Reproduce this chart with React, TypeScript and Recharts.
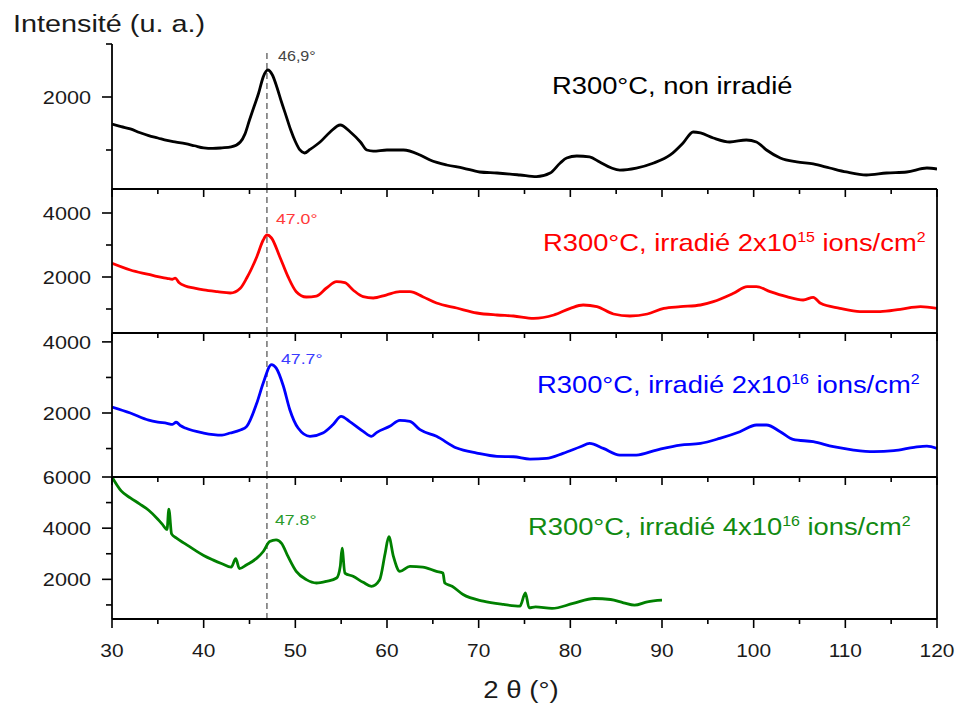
import React from 'react';
import { LineChart, Line, XAxis, YAxis, ReferenceLine } from 'recharts';

const W = 957;
const H = 708;
const FONT = "'Liberation Sans', Arial, Helvetica, sans-serif";

// ---------- data ----------
const xTicks = [30, 35, 40, 45, 50, 55, 60, 65, 70, 75, 80, 85, 90, 95, 100, 105, 110, 115, 120];
const xMajor = [30, 40, 50, 60, 70, 80, 90, 100, 110, 120];

const blackX = [30, 31, 32, 33, 34, 35, 36, 37, 38, 39, 40, 41, 42, 43, 44, 44.5, 45, 45.5, 46, 46.5, 47, 47.5, 48, 48.5, 49, 49.5, 50, 50.5, 51, 51.6, 52.7, 53.8, 54.9, 56, 57.1, 57.8, 58.5, 60, 61.8, 63.6, 64.7, 66.5, 68.3, 70.1, 72, 74.5, 76.3, 77.8, 78.9, 79.6, 80.7, 82.1, 83.2, 84.5, 85.4, 87.2, 89.1, 90.9, 92.3, 93.4, 94.2, 95.6, 97.4, 99.2, 100.3, 101.4, 102.9, 104.7, 106.5, 108.3, 110.1, 112.3, 114.5, 116.7, 118.9, 120];
const blackY = [1490, 1440, 1400, 1330, 1270, 1226, 1180, 1150, 1120, 1080, 1040, 1030, 1040, 1057, 1151, 1300, 1566, 1820, 2075, 2380, 2509, 2415, 2180, 1900, 1640, 1377, 1160, 1000, 943, 1010, 1151, 1340, 1472, 1340, 1151, 1000, 980, 1000, 1000, 906, 811, 717, 660, 585, 566, 528, 497, 566, 755, 849, 887, 868, 774, 660, 622, 660, 755, 906, 1132, 1340, 1321, 1226, 1151, 1189, 1151, 1000, 849, 774, 736, 660, 585, 528, 566, 585, 660, 641];

const redX = [30, 32, 34, 35, 36, 36.6, 36.9, 37.3, 38, 39, 40, 41.5, 42.9, 44, 44.7, 45.8, 46.5, 46.9, 47.4, 48.3, 49.2, 50.1, 51.2, 52.3, 53.4, 54.5, 55.4, 56.3, 57.4, 58.5, 59.9, 61.4, 62.5, 63.9, 65.4, 67.6, 69.8, 72, 73.8, 76, 78.2, 80, 81.4, 82.9, 84.7, 86.5, 88.4, 90.2, 92, 94.2, 95.6, 97.8, 99.3, 100.3, 101.8, 103.6, 105.4, 106.5, 107.3, 109.4, 111.6, 113.8, 116, 118.2, 120];
const redY = [2427, 2219, 2080, 2010, 1960, 1930, 1965, 1830, 1720, 1650, 1594, 1540, 1500, 1650, 1969, 2634, 3156, 3312, 3219, 2634, 2010, 1541, 1375, 1406, 1656, 1854, 1822, 1594, 1385, 1344, 1437, 1541, 1541, 1385, 1187, 1031, 875, 812, 781, 708, 812, 1021, 1125, 1073, 844, 781, 844, 1021, 1073, 1125, 1229, 1490, 1698, 1698, 1541, 1385, 1281, 1365, 1177, 1021, 917, 917, 990, 1073, 1021];

const blueX = [30, 32, 34, 35, 36, 36.6, 37, 37.5, 38, 40, 42, 42.9, 44, 44.7, 45.8, 46.5, 47.4, 47.9, 48.7, 49.4, 50.3, 51.6, 53, 54.1, 55, 55.9, 57.4, 58.3, 58.9, 60.3, 61.4, 62.5, 63.6, 65.4, 67.6, 69.8, 72, 73.8, 75.6, 77.4, 79.2, 81.1, 82.1, 83.6, 85.4, 87.2, 89.4, 92, 94.2, 96.3, 98.5, 100.3, 101.4, 102.9, 104.3, 106.5, 108.7, 110.9, 113.1, 115.3, 117.5, 118.9, 120];
const blueY = [2169, 2000, 1800, 1746, 1710, 1680, 1740, 1640, 1577, 1437, 1380, 1437, 1521, 1625, 2282, 2845, 3362, 3268, 2752, 2093, 1577, 1343, 1437, 1671, 1907, 1766, 1484, 1343, 1456, 1625, 1794, 1766, 1530, 1343, 1014, 873, 780, 770, 704, 723, 864, 1051, 1145, 1005, 817, 817, 958, 1099, 1145, 1286, 1474, 1662, 1662, 1474, 1259, 1192, 1051, 958, 911, 939, 1033, 1070, 1005];

const greenX = [30, 31, 32, 33, 34, 35, 35.5, 36, 36.2, 36.5, 37, 38, 39, 40, 41, 42, 43, 43.5, 43.9, 44.7, 45.8, 46.5, 47.2, 47.9, 48.5, 49.2, 50.1, 51.2, 52.3, 53.4, 54.5, 54.9, 55.1, 55.4, 56.3, 57.4, 58.3, 59.2, 59.8, 60.2, 60.7, 61.4, 62.5, 63.9, 65.4, 66.1, 66.3, 67.1, 68.3, 70.5, 72.7, 74.5, 75.1, 75.5, 76.2, 78, 80.3, 82.6, 84.4, 85.8, 87, 88.4, 90];
const greenY = [6000, 5456, 5184, 4950, 4700, 4350, 4150, 3950, 4746, 3775, 3619, 3386, 3150, 2932, 2760, 2610, 2479, 2804, 2420, 2571, 2828, 3088, 3476, 3541, 3410, 2894, 2311, 1988, 1857, 1923, 2051, 2505, 3216, 2246, 2117, 1884, 1729, 1988, 3022, 3670, 2894, 2311, 2505, 2479, 2311, 2246, 1857, 1729, 1406, 1146, 1018, 953, 1470, 888, 926, 862, 1057, 1251, 1212, 1082, 991, 1121, 1185];

const zip = (xs: number[], ys: number[]) => xs.map((x, i) => ({ x, y: ys[i] }));

// ---------- tick renderers ----------
const makeYTick = (majors: number[]) => (props: any) => {
  const { x, y, payload } = props;
  const v = payload.value;
  const major = majors.includes(v);
  const len = major ? 10 : 6;
  return (
    <g>
      <line x1={x - len} y1={y} x2={x} y2={y} stroke="#000" strokeWidth={1.6} />
      {major && (
        <text
          transform={`translate(${x - 21},${y}) scale(1.14,1)`}
          dy="0.36em"
          textAnchor="end"
          fontSize={19}
          fill="#1a1a1a"
          fontFamily={FONT}
        >
          {v}
        </text>
      )}
    </g>
  );
};

const TopTick = (props: any) => {
  const { x, y, payload } = props;
  const len = xMajor.includes(payload.value) ? 8 : 5;
  return <line x1={x} y1={y} x2={x} y2={y + len} stroke="#000" strokeWidth={1.6} />;
};

const BottomTick = (props: any) => {
  const { x, y, payload } = props;
  const major = xMajor.includes(payload.value);
  const len = major ? 9 : 5;
  return (
    <g>
      <line x1={x} y1={y} x2={x} y2={y + len} stroke="#000" strokeWidth={1.6} />
      {major && (
        <text
          transform={`translate(${x},${y + 38}) scale(1.1,1)`}
          textAnchor="middle"
          fontSize={19}
          fill="#1a1a1a"
          fontFamily={FONT}
        >
          {payload.value}
        </text>
      )}
    </g>
  );
};

// ---------- panels ----------
type Panel = {
  key: string;
  top: number;
  bottom: number;
  domain: [number, number];
  yTicks: number[];
  yMajors: number[];
  data: { x: number; y: number }[];
  color: string;
  frame: boolean;
  bottomAxis: boolean;
  refTop?: number;
};

const panels: Panel[] = [
  { key: 'p1', top: 44, bottom: 189, domain: [264, 3000], yTicks: [1000, 2000, 3000], yMajors: [2000], data: zip(blackX, blackY), color: '#000000', frame: false, bottomAxis: false, refTop: 2830 },
  { key: 'p2', top: 189, bottom: 333, domain: [250, 4750], yTicks: [1000, 2000, 3000, 4000], yMajors: [2000, 4000], data: zip(redX, redY), color: '#ff0000', frame: true, bottomAxis: false },
  { key: 'p3', top: 333, bottom: 477, domain: [200, 4250], yTicks: [1000, 2000, 3000, 4000], yMajors: [2000, 4000], data: zip(blueX, blueY), color: '#0000ff', frame: true, bottomAxis: false },
  { key: 'p4', top: 477, bottom: 619, domain: [450, 6000], yTicks: [1000, 2000, 3000, 4000, 5000, 6000], yMajors: [2000, 4000, 6000], data: zip(greenX, greenY), color: '#008000', frame: true, bottomAxis: true },
];

const PLOT_LEFT = 112;
const PLOT_RIGHT = 937;
const YW = 60; // left axis band
const RW = 10; // right axis band
const TH = 10; // top axis band
const BH = 40; // bottom axis band

function PanelChart({ p }: { p: Panel }) {
  const topBand = p.frame ? TH : 0;
  const rightBand = p.frame ? RW : 0;
  const bottomBand = p.bottomAxis ? BH : 0;
  return (
    <div style={{ position: 'absolute', left: 0, top: 0, width: W, height: H }}>
      <LineChart
        width={W}
        height={H}
        data={p.data}
        margin={{
          top: p.top - topBand,
          bottom: H - p.bottom - bottomBand,
          left: PLOT_LEFT - YW,
          right: W - PLOT_RIGHT - rightBand,
        }}
      >
        <XAxis
          xAxisId="b"
          dataKey="x"
          type="number"
          domain={[30, 120]}
          ticks={xTicks}
          interval={0}
          orientation="bottom"
          height={p.bottomAxis ? BH : 0}
          tickSize={0}
          tickMargin={0}
          hide={!p.bottomAxis}
          axisLine={{ stroke: '#000', strokeWidth: 1.8 }}
          tickLine={false}
          tick={BottomTick}
          allowDataOverflow
        />
        {p.frame && (
          <XAxis
            xAxisId="t"
            dataKey="x"
            type="number"
            domain={[30, 120]}
            ticks={xTicks}
            interval={0}
            orientation="top"
            height={TH}
            tickSize={0}
            tickMargin={0}
            axisLine={{ stroke: '#000', strokeWidth: 1.8 }}
            tickLine={false}
            tick={TopTick}
            allowDataOverflow
          />
        )}
        <YAxis
          yAxisId="l"
          type="number"
          domain={p.domain}
          ticks={p.yTicks}
          interval={0}
          width={YW}
          tickSize={0}
          tickMargin={0}
          axisLine={{ stroke: '#000', strokeWidth: 1.8 }}
          tickLine={false}
          tick={makeYTick(p.yMajors)}
          allowDataOverflow
        />
        {p.frame && (
          <YAxis
            yAxisId="r"
            orientation="right"
            type="number"
            domain={[0, 1]}
            width={RW}
            tick={false}
            tickLine={false}
            axisLine={{ stroke: '#000', strokeWidth: 1.8 }}
          />
        )}
        {p.refTop !== undefined ? (
          <ReferenceLine
            xAxisId="b"
            yAxisId="l"
            segment={[{ x: 46.9, y: p.refTop }, { x: 46.9, y: p.domain[0] }]}
            stroke="#7a7a7a"
            strokeWidth={1.6}
            strokeDasharray="6 4"
          />
        ) : (
          <ReferenceLine xAxisId="b" yAxisId="l" x={46.9} stroke="#7a7a7a" strokeWidth={1.6} strokeDasharray="6 4" />
        )}
        <Line
          xAxisId="b"
          yAxisId="l"
          type="monotone"
          dataKey="y"
          stroke={p.color}
          strokeWidth={2.8}
          dot={false}
          isAnimationActive={false}
        />
      </LineChart>
    </div>
  );
}

function T({ x, y, size, fill, sx = 1.14, anchor = 'start', children }: any) {
  return (
    <text transform={`translate(${x},${y}) scale(${sx},1)`} fontSize={size} fill={fill} textAnchor={anchor} fontFamily={FONT}>
      {children}
    </text>
  );
}

function Sample({ x, y, color, base, exp }: { x: number; y: number; color: string; base: string; exp: string }) {
  return (
    <T x={x} y={y} size={24} fill={color}>
      R300°C, irradié {base}
      <tspan dy={-9} fontSize={14}>{exp}</tspan>
      <tspan dy={9}> ions/cm</tspan>
      <tspan dy={-9} fontSize={14}>2</tspan>
    </T>
  );
}

export default function App() {
  return (
    <div style={{ position: 'absolute', left: 0, top: 0, width: W, height: H, background: '#fff' }}>
      {panels.map((p) => (
        <PanelChart key={p.key} p={p} />
      ))}
      <svg width={W} height={H} style={{ position: 'absolute', left: 0, top: 0, pointerEvents: 'none' }}>
        <T x={13} y={32} size={24} fill="#1a1a1a" sx={1.2}>Intensité (u. a.)</T>
        <T x={521} y={698} size={24} fill="#1a1a1a" sx={1.15} anchor="middle">2 θ (°)</T>

        <T x={552} y={94} size={24} fill="#000">R300°C, non irradié</T>
        <Sample x={543} y={251} color="#ff0000" base="2x10" exp="15" />
        <Sample x={537} y={393} color="#0000ff" base="2x10" exp="16" />
        <Sample x={528} y={535} color="#118a11" base="4x10" exp="16" />

        <T x={278} y={61} size={14} fill="#444" sx={1.15}>46,9°</T>
        <T x={276} y={224} size={15} fill="#ff3a3a" sx={1.18}>47.0°</T>
        <T x={281} y={364} size={15} fill="#3a3aff" sx={1.18}>47.7°</T>
        <T x={275} y={525} size={15} fill="#2a9a2a" sx={1.18}>47.8°</T>
      </svg>
    </div>
  );
}
